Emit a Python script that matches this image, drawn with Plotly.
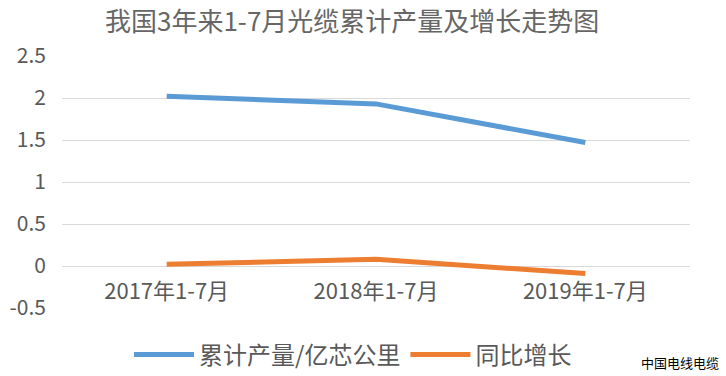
import plotly.graph_objects as go

categories = ["2017年1-7月", "2018年1-7月", "2019年1-7月"]
output_vals = [2.02, 1.93, 1.47]
growth_vals = [0.02, 0.08, -0.09]
series_names = ["累计产量/亿芯公里", "同比增长"]
y_ticks = [-0.5, 0, 0.5, 1, 1.5, 2, 2.5]
y_tick_text = ["-0.5", "0", "0.5", "1", "1.5", "2", "2.5"]

FONT = "Noto Sans CJK SC, Noto Sans, sans-serif"
GRAY = "#595959"

fig = go.Figure()
fig.add_trace(go.Scatter(x=categories, y=output_vals, mode="lines", name=series_names[0],
                         line=dict(color="#5B9BD5", width=5)))
fig.add_trace(go.Scatter(x=categories, y=growth_vals, mode="lines", name=series_names[1],
                         line=dict(color="#ED7D31", width=5)))

W, H = 726, 376
mt, mb, ml, mr = 56, 68, 62, 36
PW, PH = W - ml - mr, H - mt - mb

fig.update_layout(
    width=W, height=H,
    margin=dict(t=mt, b=mb, l=ml, r=mr, autoexpand=False),
    paper_bgcolor="white", plot_bgcolor="white",
    font=dict(family=FONT, color=GRAY),
    showlegend=True,
    legend=dict(orientation="h", x=(353 - ml) / PW, xanchor="center",
                y=-(355 - (H - mb)) / PH, yanchor="middle",
                font=dict(size=24, color=GRAY), itemwidth=60, bgcolor="rgba(0,0,0,0)"),
    xaxis=dict(type="category", range=[-0.5, 2.5], showgrid=False, showline=False,
               zeroline=False, ticks="", tickfont=dict(size=22, color=GRAY),
               ticklabelstandoff=10,
               anchor="free", position=0.5 / 3.0, automargin=False),
    yaxis=dict(range=[-0.5, 2.5], tickvals=y_ticks, ticktext=y_tick_text,
               showgrid=True, gridcolor="#D9D9D9", gridwidth=1, zeroline=False,
               showline=False, ticks="", tickfont=dict(size=21, color=GRAY),
               ticklabelstandoff=15, automargin=False),
    annotations=[
        dict(text="我国3年来1-7月光缆累计产量及增长走势图", xref="paper", yref="paper",
             x=(352 - ml) / PW, y=1 + (mt - 19) / PH,
             xanchor="center", yanchor="middle", showarrow=False,
             font=dict(size=26, color="#666666")),
        dict(text="中国电线电缆", xref="paper", yref="paper",
             x=(721 - ml) / PW, y=-(362 - (H - mb)) / PH,
             xanchor="right", yanchor="middle", showarrow=False,
             font=dict(size=13, color="black")),
    ],
)

fig.write_html("out.html", config={"displayModeBar": False},
               post_script="document.body.style.margin='0';")
